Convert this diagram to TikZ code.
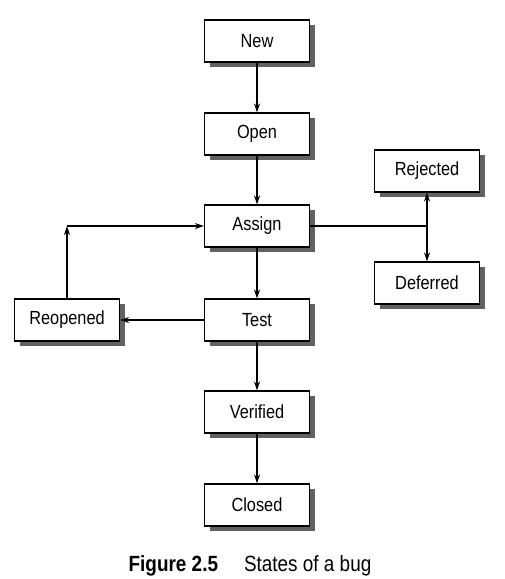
\documentclass[tikz,border=0pt]{standalone}
\usepackage{fontspec}
\setmainfont{Liberation Sans}[FakeStretch=0.86]
\usetikzlibrary{arrows.meta, shadows, positioning}

\begin{document}
\begin{tikzpicture}[x=1pt,y=1pt]
	\tikzstyle{every node}+=[inner sep=0pt]
	\tikzstyle{state}=[draw, line width=1.1pt, fill=white, minimum width=105pt, minimum height=42pt, font=\fontsize{19}{21}\selectfont, drop shadow={shadow xshift=5pt, shadow yshift=-5pt, fill=black!62, opacity=1}]
	\tikzstyle{flow}=[line width=1.1pt, -{Stealth[length=9pt,width=6pt]}]
	\useasboundingbox (0,0) rectangle (504,-579);
	\node [state] (new) at (257,-41) {New};
	\node [state] (open) at (257,-134) {Open};
	\node [state] (assign) at (257,-226) {Assign};
	\node [state] (test) at (257,-320) {Test};
	\node [state] (verified) at (257,-412) {Verified};
	\node [state] (closed) at (257,-505) {Closed};
	\node [state] (rejected) at (427,-171) {Rejected};
	\node [state] (deferred) at (427,-283) {Deferred};
	\node [state] (reopened) at (67,-320) {Reopened};
	\coordinate (split) at (427,-226);
	\coordinate (corner) at (67,-226);
	\draw [flow] (new) -- (open);
	\draw [flow] (open) -- (assign);
	\draw [flow] (assign) -- (test);
	\draw [flow] (test) -- (verified);
	\draw [flow] (verified) -- (closed);
	\draw [line width=1.1pt] (assign.east) -- (split);
	\draw [flow] (split) -- (rejected.south);
	\draw [flow] (split) -- (deferred.north);
	\draw [flow] (test.west) -- (reopened.east);
	\draw [flow] (reopened.north) -- (corner);
	\draw [flow] (corner) -- (assign.west);
	\node (caption) at (250,-566) {\fontsize{22}{24}\selectfont\textbf{Figure 2.5}\hspace{26pt}States of a bug};
\end{tikzpicture}
\end{document}
